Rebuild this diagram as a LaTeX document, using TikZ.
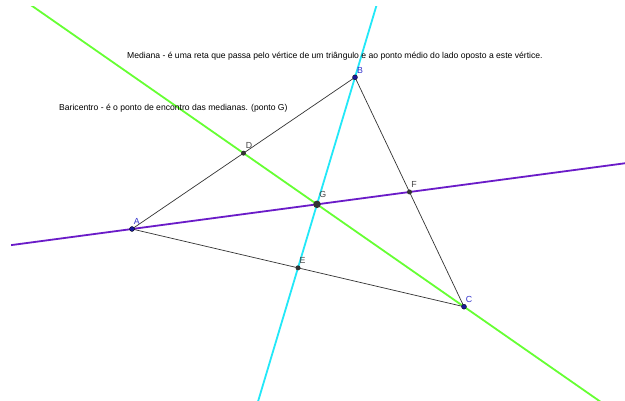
\documentclass[tikz,border=0pt]{standalone}
\usepackage{fontspec}
\setmainfont{Liberation Sans}
\usetikzlibrary{calc}
\definecolor{mgreen}{HTML}{66FF33}
\definecolor{mcyan}{HTML}{22E8F8}
\definecolor{mpurple}{HTML}{6A1BC8}
\definecolor{mblue}{HTML}{1A1A9A}
\definecolor{mlabelblue}{HTML}{3333CC}
\definecolor{mgray}{HTML}{333333}
\definecolor{mlabelgray}{HTML}{444444}
\begin{document}
\begin{tikzpicture}[x=1pt,y=-1pt,
  side/.style={draw=mgray,line width=0.7pt},
  median/.style={line width=1.8pt},
  vertexpt/.style={circle,fill=mblue,draw=black,line width=0.3pt,inner sep=0pt,minimum size=5pt},
  midpt/.style={circle,fill=mgray,inner sep=0pt,minimum size=5pt},
  centroidpt/.style={circle,fill=mgray,inner sep=0pt,minimum size=7.5pt},
  vlabel/.style={text=mlabelblue,font=\fontsize{8.8}{9}\selectfont,inner sep=0pt},
  mlabel/.style={text=mlabelgray,font=\fontsize{8.8}{9}\selectfont,inner sep=0pt},
  note/.style={text=black,font=\fontsize{8.6}{10}\selectfont,inner sep=0pt,anchor=west}]
\useasboundingbox[fill=white] (0,0) rectangle (625,401);
% points
\coordinate (A) at (132,229);
\coordinate (B) at (355,77.3);
\coordinate (C) at (464,306.7);
\coordinate (D) at ($(A)!0.5!(B)$);
\coordinate (E) at ($(A)!0.5!(C)$);
\coordinate (F) at ($(B)!0.5!(C)$);
\coordinate (G) at ($(A)!2/3!(F)$);
% medians (extended lines)
\begin{scope}
\clip (11,7) rectangle (625,401);
\draw[median,mgreen] ($(C)!-3!(D)$) -- ($(D)!-3!(C)$);
\draw[median,mcyan] ($(B)!-3!(E)$) -- ($(E)!-3!(B)$);
\draw[median,mpurple] ($(A)!-3!(F)$) -- ($(F)!-3!(A)$);
\end{scope}
% triangle
\draw[side] (A) -- (B) -- (C) -- cycle;
% point markers
\node[vertexpt] (pA) at (A) {};
\node[vertexpt] (pB) at (B) {};
\node[vertexpt] (pC) at (C) {};
\node[midpt] (pD) at (D) {};
\node[midpt] (pE) at (E) {};
\node[midpt] (pF) at (F) {};
\node[centroidpt] (pG) at (G) {};
% labels
\node[vlabel] (lA) at ($(A)+(4.7,-7.3)$) {A};
\node[vlabel] (lB) at ($(B)+(5,-7.3)$) {B};
\node[vlabel] (lC) at ($(C)+(5,-7.7)$) {C};
\node[mlabel] (lD) at ($(D)+(5.5,-7.3)$) {D};
\node[mlabel] (lE) at ($(E)+(4.5,-7.3)$) {E};
\node[mlabel] (lF) at ($(F)+(4.5,-8)$) {F};
\node[mlabel] (lG) at ($(G)+(5.7,-10)$) {G};
% texts
\node[note] (t1) at (127,56) {Mediana - é uma reta que passa pelo vértice de um triângulo e ao ponto médio do lado oposto a este vértice.};
\node[note] (t2) at (59,108) {Baricentro - é o ponto de encontro das medianas. (ponto G)};
\end{tikzpicture}
\end{document}
